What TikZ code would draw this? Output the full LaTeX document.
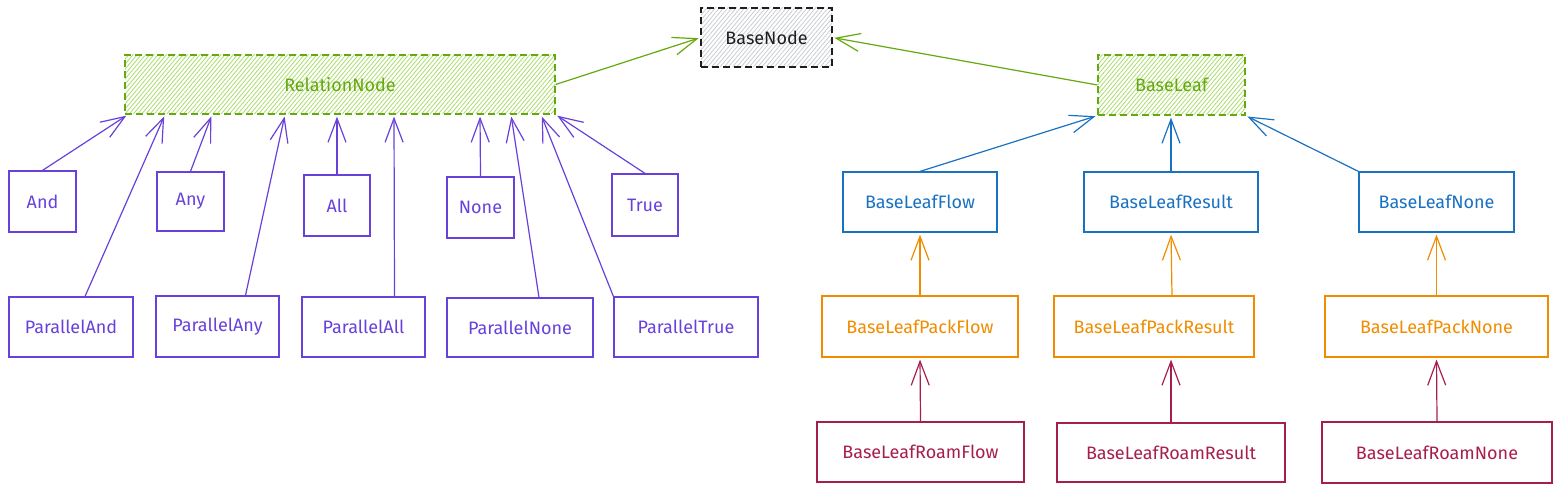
\documentclass[tikz,border=0pt]{standalone}
\usepackage{fontspec}
\setmainfont{Fira Sans}
\usetikzlibrary{arrows.meta,patterns.meta}
\definecolor{violet}{HTML}{6741D9}
\definecolor{bblue}{HTML}{1971C2}
\definecolor{borange}{HTML}{F08C00}
\definecolor{crimson}{HTML}{A61E4D}
\definecolor{ggreen}{HTML}{66A80F}
\definecolor{lgreen}{HTML}{A9DC6A}
\definecolor{lgray}{HTML}{C9CDD2}
\definecolor{ink}{HTML}{1E1E1E}
\tikzset{
	box/.style={draw, line width=1.2pt, inner sep=0pt, font=\fontsize{18}{21}\selectfont},
	dashbox/.style={box, dash pattern=on 7pt off 4pt},
	hatch/.style={pattern={Lines[angle=50,distance=3.2pt,line width=0.8pt]}, pattern color=#1},
	conn/.style={line width=1.2pt, -{Straight Barb[length=24pt,width=18pt,line width=1.2pt]}, shorten >=2pt}
}
\begin{document}
\begin{tikzpicture}[x=1pt,y=-1pt]
			\useasboundingbox (0,0) rectangle (1561,492);
			\node[dashbox, ink, hatch=lgray, text=ink, minimum width=131, minimum height=59] (base) at (766.5,37.5){BaseNode};
			\node[dashbox, ggreen, hatch=lgreen, minimum width=430, minimum height=59] (rel) at (340,84.5){RelationNode};
			\node[dashbox, ggreen, hatch=lgreen, minimum width=147, minimum height=60] (leaf) at (1171.5,85){BaseLeaf};
			\node[box, violet, minimum width=67, minimum height=61] (and) at (42.5,201.5){And};
			\node[box, violet, minimum width=67, minimum height=59] (any) at (190.5,201.5){Any};
			\node[box, violet, minimum width=66, minimum height=61] (all) at (337,205.5){All};
			\node[box, violet, minimum width=67, minimum height=61] (none) at (480.5,207.5){None};
			\node[box, violet, minimum width=66, minimum height=62] (true) at (645,205){True};
			\node[box, violet, minimum width=124, minimum height=60] (pand) at (71,327){ParallelAnd};
			\node[box, violet, minimum width=123, minimum height=61] (pany) at (217.5,326.5){ParallelAny};
			\node[box, violet, minimum width=123, minimum height=60] (pall) at (363.5,327){ParallelAll};
			\node[box, violet, minimum width=146, minimum height=59] (pnone) at (520,327.5){ParallelNone};
			\node[box, violet, minimum width=144, minimum height=60] (ptrue) at (686,327){ParallelTrue};
			\node[box, bblue, minimum width=154, minimum height=60] (lflow) at (920,202){BaseLeafFlow};
			\node[box, bblue, minimum width=174, minimum height=60] (lres) at (1171,202){BaseLeafResult};
			\node[box, bblue, minimum width=155, minimum height=60] (lnone) at (1436.5,202){BaseLeafNone};
			\node[box, borange, minimum width=196, minimum height=61] (pkflow) at (920,326.5){BaseLeafPackFlow};
			\node[box, borange, minimum width=200, minimum height=61] (pkres) at (1154,326.5){BaseLeafPackResult};
			\node[box, borange, minimum width=223, minimum height=61] (pknone) at (1436.5,326.5){BaseLeafPackNone};
			\node[box, crimson, minimum width=207, minimum height=60] (rmflow) at (920.5,452){BaseLeafRoamFlow};
			\node[box, crimson, minimum width=228, minimum height=59] (rmres) at (1171,452.5){BaseLeafRoamResult};
			\node[box, crimson, minimum width=230, minimum height=61] (rmnone) at (1437,452.5){BaseLeafRoamNone};
			\draw[conn, ggreen] (rel.east) -- (base.west);
			\draw[conn, ggreen] (leaf.west) -- (base.east);
			\draw[conn, violet] (and.north) -- (128,0 |- rel.south);
			\draw[conn, violet] ([xshift=14pt]pand.north) -- (165,0 |- rel.south);
			\draw[conn, violet] (any.north) -- (212,0 |- rel.south);
			\draw[conn, violet] ([xshift=28pt]pany.north) -- (285,0 |- rel.south);
			\draw[conn, violet] (all.north) -- (337,0 |- rel.south);
			\draw[conn, violet] ([xshift=31pt]pall.north) -- (394,0 |- rel.south);
			\draw[conn, violet] (none.north) -- (480,0 |- rel.south);
			\draw[conn, violet] ([xshift=19pt]pnone.north) -- (511,0 |- rel.south);
			\draw[conn, violet] (ptrue.north west) -- (541,0 |- rel.south);
			\draw[conn, violet] (true.north) -- (rel.south east);
			\draw[conn, bblue] (lflow.north) -- (leaf.south west);
			\draw[conn, bblue] (lres.north) -- (lres.north |- leaf.south);
			\draw[conn, bblue] (lnone.north west) -- (leaf.south east);
			\draw[conn, borange] (pkflow.north) -- (lflow.south);
			\draw[conn, borange] ([xshift=18pt]pkres.north) -- (lres.south);
			\draw[conn, borange] (pknone.north) -- (lnone.south);
			\draw[conn, crimson] (rmflow.north) -- (pkflow.south);
			\draw[conn, crimson] (rmres.north) -- (rmres.north |- pkres.south);
			\draw[conn, crimson] (rmnone.north) -- (pknone.south);
		\end{tikzpicture}
\end{document}
